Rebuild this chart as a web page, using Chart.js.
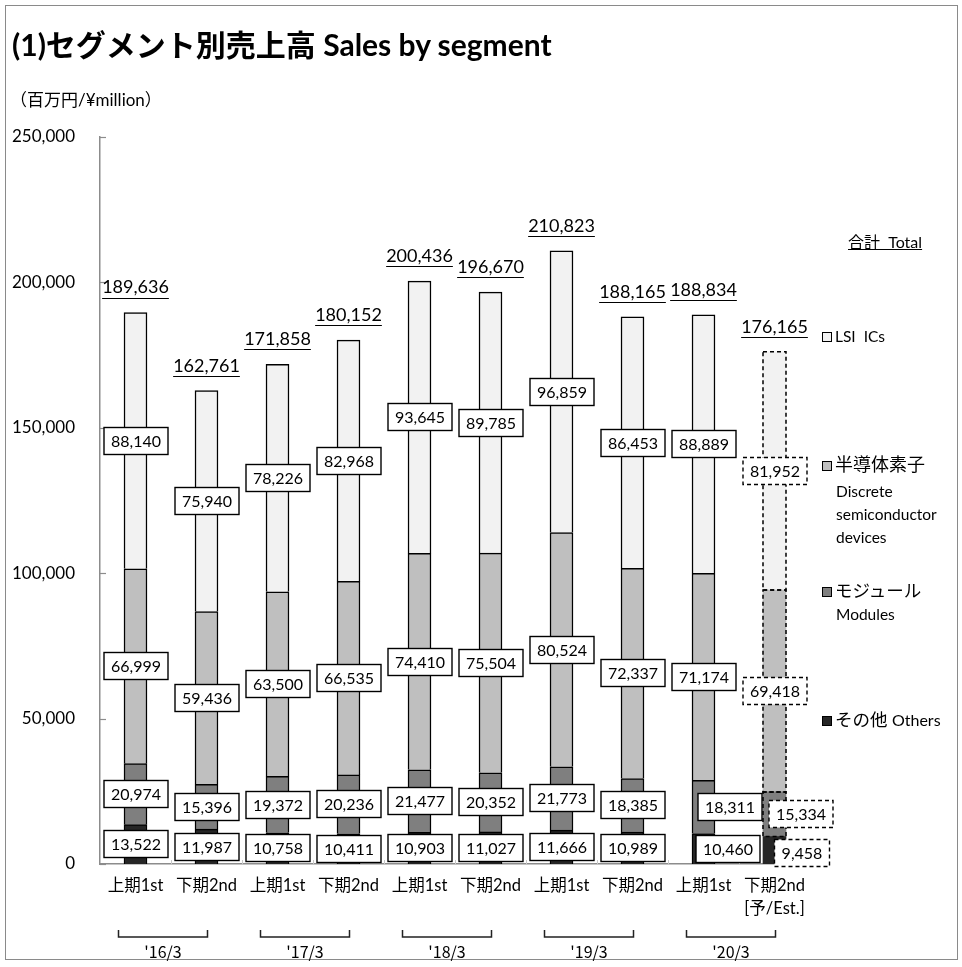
<!DOCTYPE html>
<html><head><meta charset="utf-8">
<script src="https://cdn.jsdelivr.net/npm/chart.js@4/dist/chart.umd.min.js"></script>
<style>
html,body{margin:0;padding:0;background:#fff;}
#wrap{position:relative;width:962px;height:967px;overflow:hidden;font-family:Lato,"Noto Sans CJK JP",sans-serif;color:#000;}
#frame{position:absolute;left:5px;top:5px;width:953px;height:955px;border:1.5px solid #8a8a8a;box-sizing:border-box;}
#c{position:absolute;left:0;top:0;}
.t{position:absolute;white-space:nowrap;color:#000;}
.sq{display:inline-block;width:10px;height:10px;border:1px solid #000;margin-right:3px;vertical-align:0px;box-sizing:border-box;}
</style></head>
<body>
<div id="wrap">
  <div id="frame"></div>
  <canvas id="c" width="962" height="967"></canvas>
  <div class="t" style="left:12px;top:25px;font-size:30px;font-weight:bold;line-height:38px;">(1)セグメント別売上高 Sales by segment</div>
  <div class="t" style="left:10px;top:89px;font-size:17px;line-height:22px;">（百万円/¥million）</div>
  <div class="t" style="left:848px;top:231px;font-size:16px;line-height:22px;text-decoration:underline;">合計&nbsp;&nbsp;Total</div>
  <div class="t" style="left:822px;top:325px;font-size:15.5px;line-height:22px;"><span class="sq" style="background:#f2f2f2"></span>LSI&nbsp;&nbsp;ICs</div>
  <div class="t" style="left:822px;top:452px;font-size:18px;line-height:24px;"><span class="sq" style="background:#bfbfbf"></span>半導体素子</div>
  <div class="t" style="left:836px;top:480px;font-size:15.5px;line-height:23px;">Discrete<br>semiconductor<br>devices</div>
  <div class="t" style="left:822px;top:579px;font-size:17.5px;line-height:24px;"><span class="sq" style="background:#7f7f7f"></span>モジュール</div>
  <div class="t" style="left:836px;top:603px;font-size:15.5px;line-height:22px;">Modules</div>
  <div class="t" style="left:822px;top:708px;font-size:17.5px;line-height:24px;"><span class="sq" style="background:#262626"></span>その他 <span style="font-size:16px">Others</span></div>
</div>
<script>
// ---- data ----
const categories = ["上期1st","下期2nd","上期1st","下期2nd","上期1st","下期2nd","上期1st","下期2nd","上期1st",["下期2nd","[予/Est.]"]];
const fiscalYears = ["'16/3","'17/3","'18/3","'19/3","'20/3"];
const others   = [13522, 11987, 10758, 10411, 10903, 11027, 11666, 10989, 10460, 9458];
const modules  = [20974, 15396, 19372, 20236, 21477, 20352, 21773, 18385, 18311, 15334];
const discrete = [66999, 59436, 63500, 66535, 74410, 75504, 80524, 72337, 71174, 69418];
const lsi      = [88140, 75940, 78226, 82968, 93645, 89785, 96859, 86453, 88889, 81952];
const totals   = [189636, 162761, 171858, 180152, 200436, 196670, 210823, 188165, 188834, 176165];
const yTicks   = [0, 50000, 100000, 150000, 200000, 250000];

const fmt = v => v.toLocaleString('en-US');
const LAST = categories.length - 1;
const FONT = 'Lato, "Noto Sans CJK JP", sans-serif';
// horizontal shifts of some value boxes: {categoryIndex: {datasetIndex: dx}}
const labelShift = {8: {0: 24, 1: 26}, 9: {0: 27, 1: 26}};
const labelDy = {9: {0: 3}};

const bw = categories.map((c, i) => i === LAST ? 0 : 1.5);

const overlay = {
  id: 'overlay',
  afterDatasetsDraw(chart) {
    const {ctx, chartArea: ca, scales: {x, y}} = chart;
    ctx.save();
    // inner y ticks
    ctx.strokeStyle = '#8c8c8c'; ctx.lineWidth = 1.2;
    yTicks.forEach(v => {
      const py = Math.round(y.getPixelForValue(v)) + 0.5;
      ctx.beginPath(); ctx.moveTo(ca.left, py); ctx.lineTo(ca.left + 6, py); ctx.stroke();
    });
    // category boundary ticks
    ctx.strokeStyle = '#c8c8c8'; ctx.lineWidth = 1;
    for (let i = 1; i < categories.length; i++) {
      const px = Math.round((x.getPixelForValue(i - 1) + x.getPixelForValue(i)) / 2) + 0.5;
      ctx.beginPath(); ctx.moveTo(px, ca.bottom - 4); ctx.lineTo(px, ca.bottom); ctx.stroke();
    }
    // dashed outline for estimate bar
    ctx.strokeStyle = '#000'; ctx.lineWidth = 1.5; ctx.setLineDash([4, 3]);
    chart.data.datasets.forEach((ds, di) => {
      if (di === 0) return;
      const el = chart.getDatasetMeta(di).data[LAST];
      const l = el.x - el.width / 2, top = Math.min(el.y, el.base), h = Math.abs(el.base - el.y);
      ctx.strokeRect(l, top, el.width, h);
    });
    ctx.setLineDash([]);
    // value boxes
    ctx.font = '16px ' + FONT;
    ctx.textAlign = 'center'; ctx.textBaseline = 'middle';
    chart.data.datasets.forEach((ds, di) => {
      const meta = chart.getDatasetMeta(di);
      meta.data.forEach((el, i) => {
        const txt = fmt(ds.data[i]);
        const dx = (labelShift[i] && labelShift[i][di]) || 0;
        const dy = (labelDy[i] && labelDy[i][di]) || 0;
        const cx = Math.round(el.x + dx), cy = Math.round((el.y + el.base) / 2 + dy);
        const tw = ctx.measureText(txt).width;
        const w = Math.round(tw + 14), h = 27;
        const bx = cx - w / 2, by = cy - h / 2;
        ctx.fillStyle = '#fff'; ctx.fillRect(bx, by, w, h);
        ctx.setLineDash(i === LAST ? [4, 3] : []);
        ctx.strokeStyle = '#000'; ctx.lineWidth = 1.4;
        ctx.strokeRect(bx, by, w, h);
        ctx.setLineDash([]);
        ctx.fillStyle = '#000';
        ctx.fillText(txt, cx, cy + 1);
      });
    });
    // totals
    ctx.font = '18px ' + FONT;
    totals.forEach((t, i) => {
      const txt = fmt(t);
      const cx = x.getPixelForValue(i), cy = y.getPixelForValue(t) - 25;
      const tw = ctx.measureText(txt).width;
      ctx.fillStyle = '#000'; ctx.fillText(txt, cx, cy);
      ctx.strokeStyle = '#000'; ctx.lineWidth = 1;
      ctx.beginPath(); ctx.moveTo(cx - tw / 2, Math.round(cy + 10) + 0.5); ctx.lineTo(cx + tw / 2, Math.round(cy + 10) + 0.5); ctx.stroke();
    });
    // fiscal-year brackets
    ctx.font = '16px "Noto Sans CJK JP", sans-serif';
    fiscalYears.forEach((fy, k) => {
      const a = x.getPixelForValue(2 * k), b = x.getPixelForValue(2 * k + 1);
      const x1 = Math.round(a - 18) + 0.5, x2 = Math.round(b) + 0.5;
      ctx.strokeStyle = '#222'; ctx.lineWidth = 1.5;
      ctx.beginPath(); ctx.moveTo(x1, 930); ctx.lineTo(x1, 937); ctx.lineTo(x2, 937); ctx.lineTo(x2, 930); ctx.stroke();
      ctx.fillStyle = '#000'; ctx.fillText(fy, (x1 + x2) / 2, 952);
    });
    ctx.restore();
  }
};

new Chart(document.getElementById('c'), {
  type: 'bar',
  data: {
    labels: categories,
    datasets: [
      {label: 'その他 Others', data: others, backgroundColor: '#262626', borderColor: '#000', borderWidth: bw},
      {label: 'モジュール Modules', data: modules, backgroundColor: '#7f7f7f', borderColor: '#000', borderWidth: bw},
      {label: '半導体素子 Discrete semiconductor devices', data: discrete, backgroundColor: '#bfbfbf', borderColor: '#000', borderWidth: bw},
      {label: 'LSI ICs', data: lsi, backgroundColor: '#f2f2f2', borderColor: '#000', borderWidth: bw}
    ]
  },
  options: {
    responsive: false,
    animation: false,
    barThickness: 23,
    layout: {padding: {left: 0, right: 152, top: 137, bottom: 0}},
    plugins: {legend: {display: false}, tooltip: {enabled: false}, title: {display: false}},
    scales: {
      x: {
        stacked: true,
        grid: {display: false, drawTicks: false},
        border: {display: true, color: '#8c8c8c', width: 1.5},
        ticks: {color: '#000', font: {family: FONT, size: 16.5, lineHeight: 1.4}, padding: 10, maxRotation: 0, autoSkip: false},
        afterFit: s => { s.height = 103; }
      },
      y: {
        stacked: true, min: 0, max: 250000,
        grid: {display: false, drawTicks: false},
        border: {display: true, color: '#8c8c8c', width: 1.5},
        ticks: {stepSize: 50000, color: '#000', font: {family: FONT, size: 17}, padding: 25, callback: v => fmt(v)},
        afterFit: s => { s.width = 100; }
      }
    }
  },
  plugins: [overlay]
});
</script>
</body></html>
